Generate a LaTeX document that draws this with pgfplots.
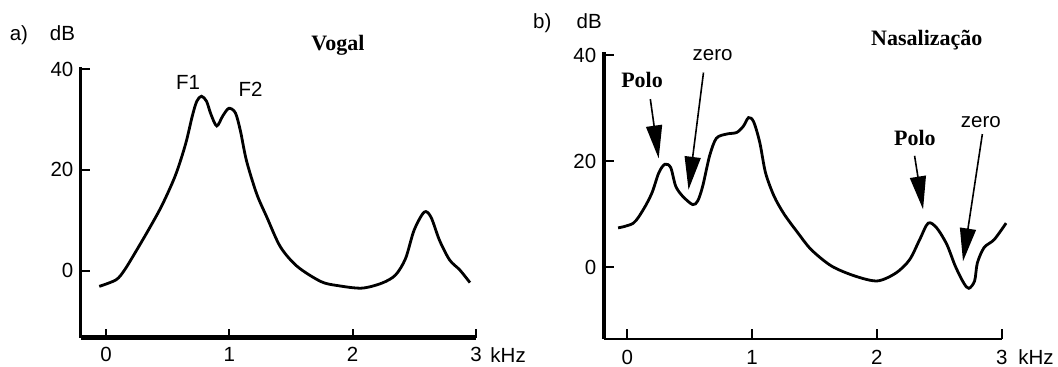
\documentclass[border=0pt]{standalone}
\usepackage{fontspec}
\setmainfont{Liberation Sans}
\newfontfamily\serifb{Liberation Serif}
\usepackage{pgfplots}
\pgfplotsset{compat=1.18}
\usetikzlibrary{arrows.meta}

\pgfplotsset{
  spec/.style={
    scale only axis, clip=false,
    axis x line*=bottom, axis y line*=left,
    xtick pos=bottom, ytick pos=left,
    xmax=3,
    tick align=inside,
    xtick={0,1,2,3}, ytick={0,20,40},
    /pgf/number format/assume math mode=true,
    tick style={black, line width=1pt},
    tick label style={font=\fontsize{10.25}{12}\selectfont},
    minor tick num=0,
  },
  curve/.style={black, line width=1.4pt, smooth, tension=0.5, no marks},
}
\tikzset{
  arr/.style={black, line width=0.8pt, -{Triangle[length=16.5pt,width=8pt]}},
  lbl/.style={font=\fontsize{10.25}{12}\selectfont, anchor=base, inner sep=0pt},
  blbl/.style={font=\serifb\bfseries\fontsize{11}{13}\selectfont, anchor=base, inner sep=0pt},
}

\begin{document}
\fontsize{10.25}{12}\selectfont
\begin{tikzpicture}
\useasboundingbox (0,0) rectangle (529pt,183pt);

% ---------- a) Vogal ----------
\begin{axis}[spec,
  at={(40.3pt,14.25pt)}, anchor=south west,
  width=197.7pt, height=135.25pt,
  xmin=-0.206, ymin=-13.3, ymax=40.4,
  major tick length=4.5pt,
  x axis line style={-, line width=2.2pt},
  y axis line style={-, line width=1.9pt},
  xticklabels={0,1,2,3},
  xticklabel style={yshift=-1.3pt},
]
\addplot[curve] coordinates {
(-0.055,-3.15) (0.082,-1.84) (0.151,0.13) (0.233,3.4) (0.343,8.0)
(0.453,12.9) (0.563,18.9) (0.645,25.1) (0.700,30.7) (0.736,33.6)
(0.774,34.6) (0.815,33.6) (0.851,31.0) (0.898,28.7) (0.947,30.7)
(0.996,32.2) (1.049,31.3) (1.090,27.7) (1.139,21.8) (1.222,15.2)
(1.304,10.6) (1.414,4.7) (1.551,0.8) (1.743,-2.2) (1.880,-3.0)
(2.073,-3.5) (2.237,-2.5) (2.347,-0.9) (2.429,2.4) (2.498,8.0)
(2.580,11.6) (2.635,10.6) (2.704,6.0) (2.786,2.1) (2.869,0.1) (2.951,-2.4)
};
\node[lbl] at (axis cs:-0.706,45.7) {a)};
\node[lbl] at (axis cs:-0.353,45.7) {dB};
\node[blbl] at (axis cs:1.88,43.7) {Vogal};
\node[lbl] at (axis cs:0.666,35.9) {F1};
\node[lbl] at (axis cs:1.173,34.6) {F2};
\node[font=\fontsize{10.25}{12}\selectfont, anchor=north west, inner sep=0pt, yshift=-4.75pt] at (axis cs:3.114,-13.3) {kHz};
\end{axis}

% ---------- b) Nasalizacao ----------
\begin{axis}[spec,
  at={(301.75pt,13.65pt)}, anchor=south west,
  width=199.1pt, height=143.15pt,
  xmin=-0.19, ymin=-13.5, ymax=40.5,
  major tick length=5pt,
  x axis line style={-, line width=1.2pt},
  y axis line style={-, line width=2pt},
  xticklabels={0,1,2,3},
  xticklabel style={yshift=-2.0pt},
]
\addplot[curve] coordinates {
(-0.073,7.4) (0.049,8.3) (0.130,10.9) (0.198,14.0) (0.253,17.8)
(0.301,19.4) (0.348,18.8) (0.388,15.3) (0.443,13.4) (0.524,11.8)
(0.565,12.5) (0.605,15.3) (0.660,21.0) (0.714,24.3) (0.796,25.1)
(0.877,25.4) (0.931,26.6) (0.972,28.2) (1.013,27.4) (1.062,23.5)
(1.108,17.8) (1.176,13.4) (1.257,10.0) (1.366,6.5) (1.474,3.3)
(1.637,0.2) (1.827,-1.7) (2.004,-2.6) (2.153,-1.1) (2.262,1.4)
(2.343,5.2) (2.411,8.3) (2.479,7.4) (2.560,4.3) (2.628,0.2)
(2.696,-3.0) (2.737,-4.0) (2.783,-2.6) (2.805,0.8) (2.859,3.7)
(2.940,5.2) (3.035,8.3)
};
\node[lbl] at (axis cs:-0.68,45.0) {b)};
\node[lbl] at (axis cs:-0.305,45.0) {dB};
\node[blbl] at (axis cs:2.40,41.8) {Nasalização};
\node[blbl] at (axis cs:0.119,33.9) {Polo};
\node[lbl] at (axis cs:0.684,38.9) {zero};
\node[blbl] at (axis cs:2.304,22.9) {Polo};
\node[lbl] at (axis cs:2.833,26.3) {zero};
\draw[arr] (axis cs:0.185,31.7) -- (axis cs:0.252,20.5);
\draw[arr] (axis cs:0.611,36.7) -- (axis cs:0.491,14.6);
\draw[arr] (axis cs:2.302,21.0) -- (axis cs:2.370,10.9);
\draw[arr] (axis cs:2.845,25.1) -- (axis cs:2.690,1.1);
\node[font=\fontsize{10.25}{12}\selectfont, anchor=north west, inner sep=0pt, yshift=-5.4pt] at (axis cs:3.13,-13.5) {kHz};
\end{axis}
\end{tikzpicture}
\end{document}
